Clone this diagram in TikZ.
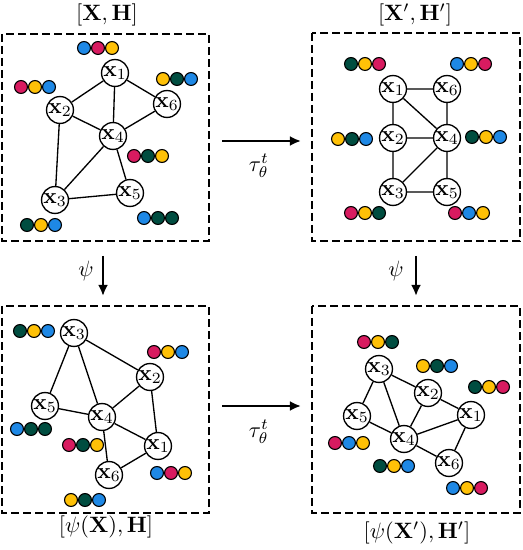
\documentclass[tikz,border=0pt]{standalone}
\usepackage{amsmath,amssymb,xcolor}
\definecolor{fmag}{HTML}{D81B60}
\definecolor{fyel}{HTML}{FFC107}
\definecolor{fblue}{HTML}{1E88E5}
\definecolor{fgrn}{HTML}{004D40}
\usetikzlibrary{arrows.meta,positioning}

% three feature dots in a row: name, centre, colours
\newcommand{\featrow}[5]{%
  \node[feat, fill=#3, xshift=-6.3pt] (#1a) at (#2) {};
  \node[feat, fill=#4]                (#1b) at (#2) {};
  \node[feat, fill=#5, xshift=6.3pt]  (#1c) at (#2) {};
}

\begin{document}
\begin{tikzpicture}[
  x=0.45pt, y=-0.45pt,
  gnode/.style={
    circle, draw, semithick, fill=white,
    minimum size=12pt, inner sep=0pt
  },
  feat/.style={circle, draw, line width=0.5pt, minimum size=5.8pt, inner sep=0pt},
  edge/.style={semithick},
  panel/.style={draw, thick, dash pattern=on 3.6pt off 1.8pt},
  conn/.style={-{Latex[length=5pt,width=4.5pt]}, line width=1.2pt}
]
\useasboundingbox (0,0) rectangle (522,550);

% panels
\draw[panel] (2,34) rectangle (209,241);
\draw[panel] (312,33) rectangle (520,241);
\draw[panel] (2,306) rectangle (209,513);
\draw[panel] (312,306) rectangle (520,513);

\node (lblA) at (107,15) {$[\mathbf{X},\mathbf{H}]$};
\node (lblB) at (415,15) {$[\mathbf{X}',\mathbf{H}']$};
\node (lblC) at (106,527) {$[\psi(\mathbf{X}),\mathbf{H}]$};
\node (lblD) at (417,533) {$[\psi(\mathbf{X}'),\mathbf{H}']$};

% top left graph
\node[gnode] (a1) at (115,73)  {$\mathbf{x}_1$};
\node[gnode] (a2) at (60,110)  {$\mathbf{x}_2$};
\node[gnode] (a6) at (167,104) {$\mathbf{x}_6$};
\node[gnode] (a4) at (113,136) {$\mathbf{x}_4$};
\node[gnode] (a3) at (55,200)  {$\mathbf{x}_3$};
\node[gnode] (a5) at (130,193) {$\mathbf{x}_5$};
\draw[edge] (a1) -- (a2) (a1) -- (a4) (a1) -- (a6) (a2) -- (a4) (a4) -- (a6);
\draw[edge] (a2) -- (a3) (a3) -- (a4) (a4) -- (a5) (a3) -- (a5);

\featrow{fa1}{98,48}{fblue}{fmag}{fyel}
\featrow{fa2}{35,87}{fmag}{fyel}{fblue}
\featrow{fa3}{177,79}{fyel}{fgrn}{fblue}
\featrow{fa4}{148,156}{fmag}{fgrn}{fyel}
\featrow{fa5}{41,225}{fgrn}{fyel}{fblue}
\featrow{fa6}{158,218}{fblue}{fgrn}{fgrn}

% top right graph
\node[gnode] (b1) at (393,89)  {$\mathbf{x}_1$};
\node[gnode] (b6) at (447,89)  {$\mathbf{x}_6$};
\node[gnode] (b2) at (393,138) {$\mathbf{x}_2$};
\node[gnode] (b4) at (447,138) {$\mathbf{x}_4$};
\node[gnode] (b3) at (393,192) {$\mathbf{x}_3$};
\node[gnode] (b5) at (447,192) {$\mathbf{x}_5$};
\draw[edge] (b1) -- (b6) (b1) -- (b2) (b1) -- (b4) (b6) -- (b4) (b2) -- (b4);
\draw[edge] (b2) -- (b3) (b3) -- (b4) (b4) -- (b5) (b3) -- (b5);

\featrow{fb1}{365,64}{fgrn}{fyel}{fmag}
\featrow{fb2}{471,64}{fblue}{fyel}{fmag}
\featrow{fb3}{352,139}{fyel}{fgrn}{fblue}
\featrow{fb4}{486,137}{fgrn}{fyel}{fblue}
\featrow{fb5}{365,213}{fmag}{fyel}{fgrn}
\featrow{fb6}{469,213}{fmag}{fblue}{fyel}

% bottom left graph
\node[gnode] (c3) at (74,333)  {$\mathbf{x}_3$};
\node[gnode] (c2) at (150,377) {$\mathbf{x}_2$};
\node[gnode] (c5) at (45,406)  {$\mathbf{x}_5$};
\node[gnode] (c4) at (102,417) {$\mathbf{x}_4$};
\node[gnode] (c1) at (158,446) {$\mathbf{x}_1$};
\node[gnode] (c6) at (109,475) {$\mathbf{x}_6$};
\draw[edge] (c3) -- (c2) (c3) -- (c5) (c3) -- (c4) (c2) -- (c4) (c2) -- (c1);
\draw[edge] (c5) -- (c4) (c4) -- (c1) (c4) -- (c6) (c6) -- (c1);

\featrow{fc1}{34,331}{fgrn}{fyel}{fblue}
\featrow{fc2}{168,352}{fmag}{fyel}{fblue}
\featrow{fc3}{31,429}{fblue}{fgrn}{fgrn}
\featrow{fc4}{83,445}{fmag}{fgrn}{fyel}
\featrow{fc5}{171,473}{fblue}{fmag}{fyel}
\featrow{fc6}{85,500}{fyel}{fgrn}{fblue}

% bottom right graph
\node[gnode] (d3) at (379,369) {$\mathbf{x}_3$};
\node[gnode] (d2) at (428,393) {$\mathbf{x}_2$};
\node[gnode] (d1) at (471,415) {$\mathbf{x}_1$};
\node[gnode] (d5) at (357,416) {$\mathbf{x}_5$};
\node[gnode] (d4) at (404,439) {$\mathbf{x}_4$};
\node[gnode] (d6) at (449,463) {$\mathbf{x}_6$};
\draw[edge] (d3) -- (d5) (d3) -- (d4) (d3) -- (d2) (d2) -- (d4) (d2) -- (d1);
\draw[edge] (d5) -- (d4) (d4) -- (d1) (d4) -- (d6) (d6) -- (d1);

\featrow{fd1}{378,342}{fmag}{fyel}{fgrn}
\featrow{fd2}{437,366}{fyel}{fgrn}{fblue}
\featrow{fd3}{489,387}{fgrn}{fyel}{fmag}
\featrow{fd4}{349,443}{fmag}{fblue}{fyel}
\featrow{fd5}{394,466}{fgrn}{fyel}{fblue}
\featrow{fd6}{467,488}{fblue}{fyel}{fmag}

% maps between panels
\coordinate (t1s) at (222,141);
\coordinate (t1e) at (301,141);
\coordinate (t2s) at (222,406);
\coordinate (t2e) at (301,406);
\coordinate (p1s) at (103,256);
\coordinate (p1e) at (103,296);
\coordinate (p2s) at (416,256);
\coordinate (p2e) at (416,296);
\draw[conn] (t1s) -- (t1e);
\draw[conn] (t2s) -- (t2e);
\draw[conn] (p1s) -- (p1e);
\draw[conn] (p2s) -- (p2e);
\node (tau1) at (259,166) {$\tau_\theta^t$};
\node (tau2) at (259,432) {$\tau_\theta^t$};
\node (psi1) at (86,271) {$\psi$};
\node (psi2) at (396,271) {$\psi$};
\end{tikzpicture}
\end{document}
